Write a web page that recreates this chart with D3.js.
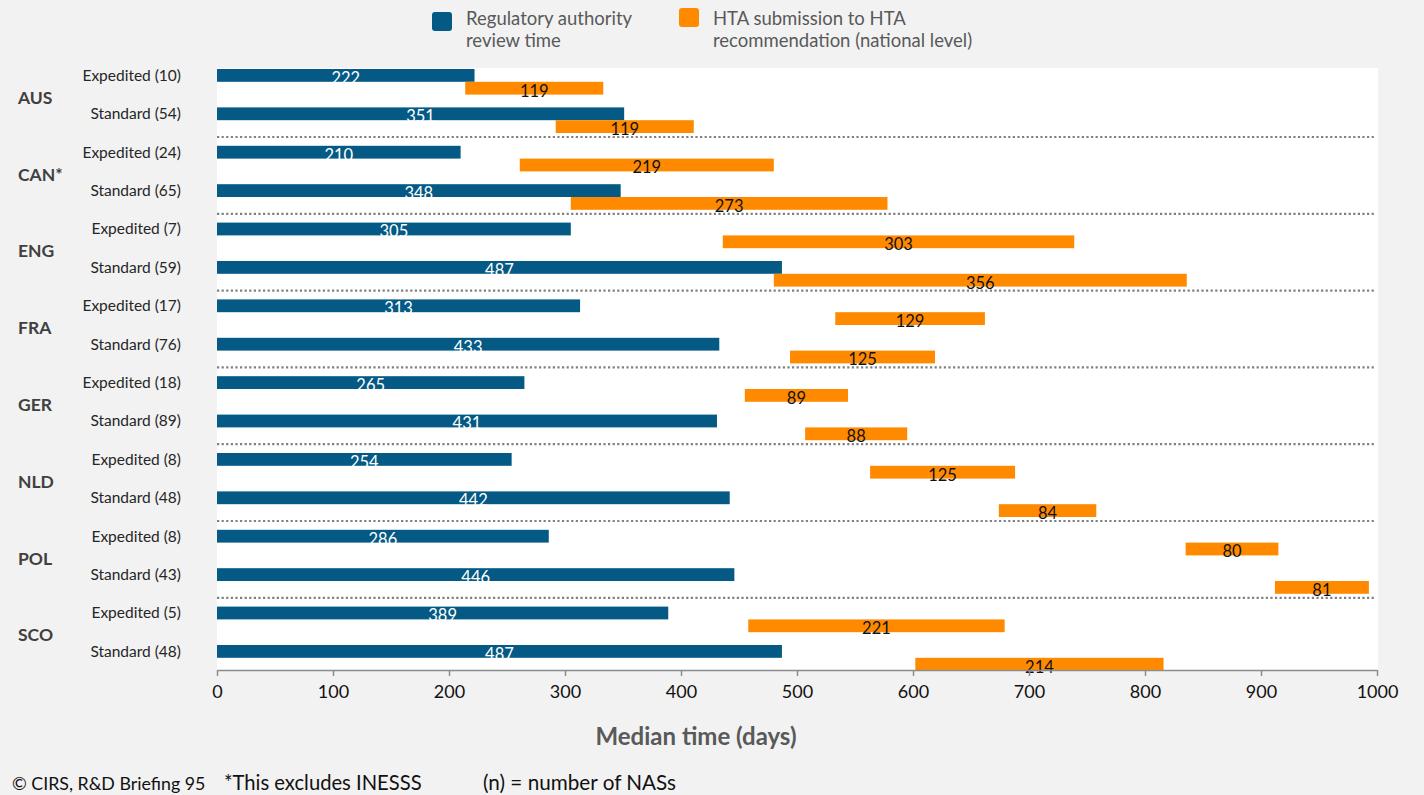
<!DOCTYPE html>
<html>
<head>
<meta charset="utf-8">
<script src="https://cdn.jsdelivr.net/npm/d3@7/dist/d3.min.js"></script>
<style>
  html, body { margin: 0; padding: 0; background: #f2f2f2; }
  svg { display: block; font-family: Lato, "Open Sans", sans-serif; }
</style>
</head>
<body>
<svg id="chart" width="1424" height="795"></svg>
<script>
// Median times (days) per country, for expedited and standard review tracks
const countries = ["AUS", "CAN*", "ENG", "FRA", "GER", "NLD", "POL", "SCO"];
const tracks = ["Expedited", "Standard"];
const expeditedN = [10, 24, 7, 17, 18, 8, 8, 5];
const standardN = [54, 65, 59, 76, 89, 48, 43, 48];

// Regulatory authority review time
const regExpedited = [222, 210, 305, 313, 265, 254, 286, 389];
const regStandard = [351, 348, 487, 433, 431, 442, 446, 487];

// HTA submission (start, in days) and HTA submission -> recommendation time
const htaStartExpedited = [214, 261, 436, 533, 455, 563, 835, 458];
const htaExpedited = [119, 219, 303, 129, 89, 125, 80, 221];
const htaStartStandard = [292, 305, 480, 494, 507, 674, 912, 602];
const htaStandard = [119, 273, 356, 125, 88, 84, 81, 214];

const xTicks = [0, 100, 200, 300, 400, 500, 600, 700, 800, 900, 1000];
const legendItems = [
  { key: "reg", lines: ["Regulatory authority", "review time"] },
  { key: "hta", lines: ["HTA submission to HTA", "recommendation (national level)"] }
];
const footnotes = ["© CIRS, R&D Briefing 95", "*This excludes INESSS", "(n) = number of NASs"];

const colors = { reg: "#045a84", hta: "#ff8a00" };

// Build one row per country/track
const rows = [];
countries.forEach((c, i) => {
  rows.push({ id: c + "|E", country: c, track: tracks[0], n: expeditedN[i],
    reg: regExpedited[i], htaStart: htaStartExpedited[i], hta: htaExpedited[i] });
  rows.push({ id: c + "|S", country: c, track: tracks[1], n: standardN[i],
    reg: regStandard[i], htaStart: htaStartStandard[i], hta: htaStandard[i] });
});

const svg = d3.select("#chart");
const plot = { left: 217, right: 1377, top: 68, bottom: 670 };

const x = d3.scaleLinear().domain([0, 1000]).range([plot.left, plot.right]);
const y = d3.scaleBand().domain(rows.map(d => d.id)).range([69, 69 + 38.4 * rows.length]).padding(0);
const sub = d3.scaleBand().domain(["reg", "hta", "gap"]).range([0, y.bandwidth()]);

// white plotting area
svg.append("rect")
  .attr("x", plot.left).attr("y", plot.top)
  .attr("width", plot.right - plot.left + 1).attr("height", plot.bottom - plot.top)
  .attr("fill", "#ffffff");

// dotted separators between countries
const sepG = svg.append("g");
countries.slice(1).forEach(c => {
  const yy = y(c + "|E") - 8.8;
  sepG.append("line")
    .attr("x1", plot.left).attr("x2", plot.right - 3)
    .attr("y1", yy).attr("y2", yy)
    .attr("stroke", "#808080").attr("stroke-width", 2.2)
    .attr("stroke-dasharray", "2.2,2.4");
});

// bars
const barG = svg.append("g");
barG.selectAll("rect.reg").data(rows).join("rect")
  .attr("class", "reg")
  .attr("x", x(0)).attr("y", d => y(d.id) + sub("reg"))
  .attr("width", d => x(d.reg) - x(0)).attr("height", sub.bandwidth())
  .attr("fill", colors.reg);

barG.selectAll("rect.hta").data(rows).join("rect")
  .attr("class", "hta")
  .attr("x", d => x(d.htaStart)).attr("y", d => y(d.id) + sub("hta"))
  .attr("width", d => x(d.htaStart + d.hta) - x(d.htaStart)).attr("height", sub.bandwidth())
  .attr("fill", colors.hta);

// value labels
barG.selectAll("text.regv").data(rows).join("text")
  .attr("class", "regv")
  .attr("x", d => (x(0) + x(d.reg)) / 2).attr("y", d => y(d.id) + sub("reg") + 14.8)
  .attr("text-anchor", "middle").attr("font-size", 16.5).attr("fill", "#ffffff")
  .text(d => d.reg);

barG.selectAll("text.htav").data(rows).join("text")
  .attr("class", "htav")
  .attr("x", d => (x(d.htaStart) + x(d.htaStart + d.hta)) / 2).attr("y", d => y(d.id) + sub("hta") + 14.8)
  .attr("text-anchor", "middle").attr("font-size", 16.5).attr("fill", "#111111")
  .text(d => d.hta);

// track labels
svg.append("g").selectAll("text").data(rows).join("text")
  .attr("x", 181).attr("y", d => y(d.id) + sub("reg") + sub.bandwidth() / 2)
  .attr("dy", "0.35em").attr("text-anchor", "end")
  .attr("font-size", 15.5).attr("fill", "#262626")
  .text(d => `${d.track} (${d.n})`);

// country labels
svg.append("g").selectAll("text").data(countries).join("text")
  .attr("x", 18)
  .attr("y", c => (y(c + "|E") + y(c + "|S")) / 2 + sub.bandwidth() / 2 + 3)
  .attr("dy", "0.35em")
  .attr("font-size", 17.5).attr("font-weight", "bold").attr("fill", "#404040")
  .text(c => c);

// x axis
const axis = svg.append("g")
  .attr("transform", `translate(0,${plot.bottom})`)
  .call(d3.axisBottom(x).tickValues(xTicks).tickFormat(d3.format("d"))
    .tickSize(6).tickSizeOuter(0).tickPadding(9));
axis.select(".domain").attr("stroke", "#8c8c8c").attr("stroke-width", 1.5);
axis.selectAll(".tick line").attr("stroke", "#8c8c8c").attr("stroke-width", 1.5);
axis.selectAll(".tick text")
  .attr("font-family", "Lato, sans-serif").attr("font-size", 18).attr("fill", "#111111");

svg.append("text")
  .attr("x", 696).attr("y", 745)
  .attr("text-anchor", "middle").attr("font-size", 24).attr("font-weight", "bold")
  .attr("fill", "#595959")
  .text("Median time (days)");

// legend
const legendPos = [{ sx: 432, sy: 12, tx: 466 }, { sx: 679, sy: 8, tx: 713 }];
legendItems.forEach((it, i) => {
  const p = legendPos[i];
  svg.append("rect")
    .attr("x", p.sx).attr("y", p.sy).attr("width", 20).attr("height", 19)
    .attr("rx", 3).attr("fill", colors[it.key]);
  const t = svg.append("text")
    .attr("x", p.tx).attr("y", 25)
    .attr("font-size", 18.5).attr("fill", "#595959");
  it.lines.forEach((ln, j) => {
    t.append("tspan").attr("x", p.tx).attr("dy", j === 0 ? 0 : 22).text(ln);
  });
});

// footnotes
const footX = [12, 224, 483];
const footSize = [17.8, 20.2, 20.7];
footnotes.forEach((f, i) => {
  svg.append("text")
    .attr("x", footX[i]).attr("y", 790)
    .attr("font-size", footSize[i]).attr("fill", "#111111")
    .text(f);
});
</script>
</body>
</html>
